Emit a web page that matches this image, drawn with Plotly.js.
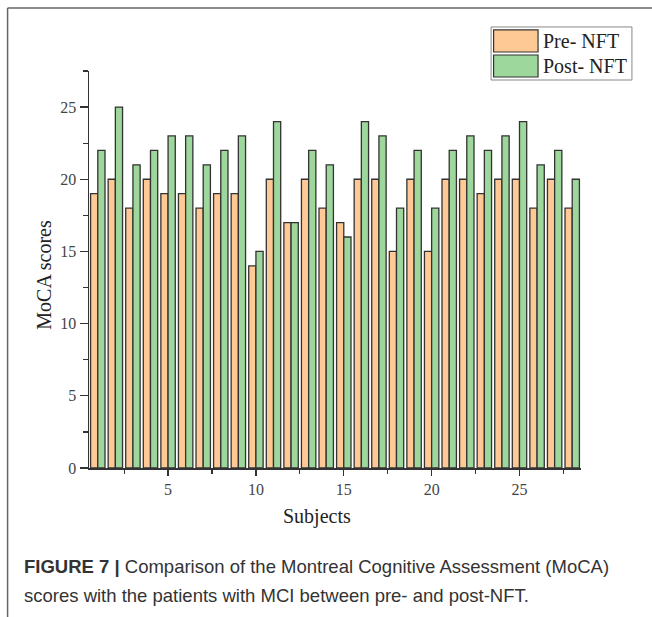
<!DOCTYPE html>
<html>
<head>
<meta charset="utf-8">
<script src="https://cdn.plot.ly/plotly-3.0.1.min.js"></script>
<style>html,body{margin:0;padding:0;background:#fff;}#chart{width:652px;height:617px;}</style>
</head>
<body>
<div id="chart"></div>
<script>
// ---- data ----
const subjects = [1,2,3,4,5,6,7,8,9,10,11,12,13,14,15,16,17,18,19,20,21,22,23,24,25,26,27,28];
const preNFT  = [19,20,18,20,19,19,18,19,19,14,20,17,20,18,17,20,20,15,20,15,20,20,19,20,20,18,20,18];
const postNFT = [22,25,21,22,23,23,21,22,23,15,24,17,22,21,16,24,23,18,22,18,22,23,22,23,24,21,22,20];
const seriesNames = ["Pre- NFT", "Post- NFT"];
const xTicks = [5,10,15,20,25];
const yTicks = [0,5,10,15,20,25];
const xTitle = "Subjects";
const yTitle = "MoCA scores";
const captionBold = "FIGURE 7 |";
const captionLine1 = " Comparison of the Montreal Cognitive Assessment (MoCA)";
const captionLine2 = "scores with the patients with MCI between pre- and post-NFT.";

// ---- layout geometry ----
const W = 652, H = 617;
const L = 88.5, R = 581, T = 71, B = 467.7;
const px = x => (x - L) / (R - L);
const py = y => (B - y) / (B - T);

const preColor = "#FFC996", postColor = "#9DD79C", edge = "#333333";
const serif = "Liberation Serif, Times New Roman, serif";
const sans = "Liberation Sans, Arial, sans-serif";

const traces = [
  {type: "bar", name: seriesNames[0], x: subjects, y: preNFT,
   marker: {color: preColor, line: {color: edge, width: 1.3}}},
  {type: "bar", name: seriesNames[1], x: subjects, y: postNFT,
   marker: {color: postColor, line: {color: edge, width: 1.3}}}
];

const shapes = [
  // outer frame
  {type: "line", xref: "paper", yref: "paper", x0: px(7), x1: px(W + 5), y0: py(8), y1: py(8), line: {color: "#666", width: 1.5}},
  {type: "line", xref: "paper", yref: "paper", x0: px(7), x1: px(7), y0: py(8), y1: py(H + 5), line: {color: "#666", width: 1.5}},
  // legend box
  {type: "rect", xref: "paper", yref: "paper", x0: px(491), x1: px(632), y0: py(27), y1: py(80), line: {color: "#888", width: 1}, fillcolor: "rgba(0,0,0,0)"},
  {type: "rect", xref: "paper", yref: "paper", x0: px(493.5), x1: px(538), y0: py(30), y1: py(52), line: {color: edge, width: 1.2}, fillcolor: preColor},
  {type: "rect", xref: "paper", yref: "paper", x0: px(493.5), x1: px(538), y0: py(55), y1: py(77), line: {color: edge, width: 1.2}, fillcolor: postColor}
];

const annotations = [
  {xref: "paper", yref: "paper", x: px(541), y: py(41), xanchor: "left", yanchor: "middle", showarrow: false,
   text: seriesNames[0], font: {family: serif, size: 20, color: "#222"}},
  {xref: "paper", yref: "paper", x: px(541), y: py(66), xanchor: "left", yanchor: "middle", showarrow: false,
   text: seriesNames[1], font: {family: serif, size: 20, color: "#222"}},
  {xref: "paper", yref: "paper", x: px(317), y: py(516), xanchor: "center", yanchor: "middle", showarrow: false,
   text: xTitle, font: {family: serif, size: 20, color: "#222"}},
  {xref: "paper", yref: "paper", x: px(44), y: py(275), xanchor: "center", yanchor: "middle", showarrow: false, textangle: -90,
   text: yTitle, font: {family: serif, size: 20, color: "#222"}},
  {xref: "paper", yref: "paper", x: px(21), y: py(566), xanchor: "left", yanchor: "middle", showarrow: false,
   text: "<b>" + captionBold + "</b>" + captionLine1, font: {family: sans, size: 18.5, color: "#333"}},
  {xref: "paper", yref: "paper", x: px(21), y: py(595), xanchor: "left", yanchor: "middle", showarrow: false,
   text: captionLine2, font: {family: sans, size: 18.5, color: "#333"}}
];

const layout = {
  width: W, height: H,
  margin: {l: L, r: W - R, t: T, b: H - B, pad: 0},
  paper_bgcolor: "#fff", plot_bgcolor: "#fff",
  showlegend: false,
  barmode: "group", bargap: 0.18, bargroupgap: 0,
  xaxis: {
    range: [0.5, 28.5], tickmode: "array", tickvals: xTicks, ticktext: xTicks.map(String),
    ticks: "outside", ticklen: 6, tickwidth: 1.3, tickcolor: "#333",
    minor: {tickmode: "linear", tick0: 0, dtick: 2.5, ticks: "outside", ticklen: 4, tickwidth: 1.2, tickcolor: "#333"},
    showline: true, linecolor: "#333", linewidth: 1.5, showgrid: false, zeroline: false,
    tickfont: {family: serif, size: 16, color: "#444"}
  },
  yaxis: {
    range: [0, 27.5], tickmode: "array", tickvals: yTicks, ticktext: yTicks.map(String),
    ticks: "outside", ticklen: 8, tickwidth: 1.3, tickcolor: "#333",
    minor: {tickmode: "linear", tick0: 0, dtick: 2.5, ticks: "outside", ticklen: 5, tickwidth: 1.2, tickcolor: "#333"},
    showline: true, linecolor: "#333", linewidth: 1.5, showgrid: false, zeroline: false,
    tickfont: {family: serif, size: 16, color: "#444"}
  },
  shapes: shapes,
  annotations: annotations
};

Plotly.newPlot("chart", traces, layout, {displayModeBar: false, staticPlot: true});
</script>
</body>
</html>
